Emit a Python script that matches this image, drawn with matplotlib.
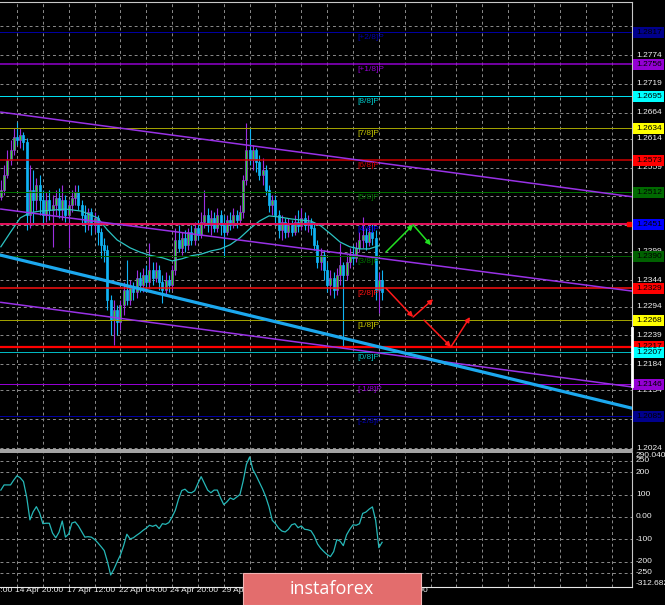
import numpy as np
import matplotlib
matplotlib.use('Agg')
import matplotlib.pyplot as plt
from matplotlib.patches import Rectangle

plt.rcParams['font.family'] = ['Liberation Sans', 'DejaVu Sans']

# GBP/USD H4 candles (bar 5 = 14 Apr 20:00)
opens = [1.2503, 1.2516, 1.2545, 1.2574, 1.2593, 1.2618, 1.2612, 1.2621, 1.2608, 1.2469,
         1.2516, 1.2497, 1.2526, 1.2497, 1.2469, 1.2497, 1.2478, 1.2488, 1.2501, 1.2478,
         1.2497, 1.2469, 1.2488, 1.2501, 1.2513, 1.2488, 1.2469, 1.2455, 1.2474, 1.2450,
         1.2463, 1.2436, 1.2412, 1.2402, 1.2307, 1.2268, 1.2288, 1.2265, 1.2297, 1.2326,
         1.2307, 1.2330, 1.2322, 1.2349, 1.2335, 1.2354, 1.2341, 1.2364, 1.2349, 1.2364,
         1.2341, 1.2326, 1.2345, 1.2335, 1.2364, 1.2421, 1.2406, 1.2425, 1.2412, 1.2436,
         1.2421, 1.2444, 1.2431, 1.2455, 1.2469, 1.2450, 1.2463, 1.2444, 1.2469, 1.2450,
         1.2436, 1.2459, 1.2450, 1.2469, 1.2459, 1.2474, 1.2536, 1.2593, 1.2574, 1.2593,
         1.2570, 1.2545, 1.2555, 1.2516, 1.2488, 1.2497, 1.2469, 1.2440, 1.2455, 1.2436,
         1.2450, 1.2436, 1.2455, 1.2448, 1.2463, 1.2450, 1.2455, 1.2444, 1.2412, 1.2379,
         1.2392, 1.2364, 1.2335, 1.2349, 1.2326, 1.2354, 1.2373, 1.2354, 1.2379, 1.2392,
         1.2387, 1.2406, 1.2421, 1.2431, 1.2417, 1.2436, 1.2425, 1.2326, 1.2345]
highs = [1.2536, 1.2564, 1.2593, 1.2612, 1.2635, 1.2646, 1.2635, 1.2627, 1.2616, 1.2564,
         1.2555, 1.2539, 1.2545, 1.2516, 1.2513, 1.2516, 1.2507, 1.2516, 1.2520, 1.2526,
         1.2507, 1.2497, 1.2516, 1.2526, 1.2526, 1.2497, 1.2488, 1.2482, 1.2482, 1.2474,
         1.2469, 1.2444, 1.2425, 1.2412, 1.2316, 1.2307, 1.2297, 1.2307, 1.2341, 1.2383,
         1.2345, 1.2341, 1.2364, 1.2360, 1.2368, 1.2373, 1.2415, 1.2379, 1.2379, 1.2373,
         1.2354, 1.2360, 1.2354, 1.2373, 1.2444, 1.2450, 1.2436, 1.2440, 1.2444, 1.2450,
         1.2455, 1.2459, 1.2474, 1.2516, 1.2482, 1.2478, 1.2474, 1.2482, 1.2478, 1.2469,
         1.2469, 1.2474, 1.2482, 1.2478, 1.2488, 1.2545, 1.2644, 1.2635, 1.2602, 1.2597,
         1.2583, 1.2578, 1.2564, 1.2526, 1.2507, 1.2507, 1.2478, 1.2469, 1.2463, 1.2463,
         1.2459, 1.2469, 1.2478, 1.2482, 1.2474, 1.2469, 1.2463, 1.2455, 1.2421, 1.2406,
         1.2402, 1.2379, 1.2364, 1.2360, 1.2368, 1.2415, 1.2379, 1.2392, 1.2406, 1.2412,
         1.2417, 1.2436, 1.2465, 1.2444, 1.2450, 1.2452, 1.2440, 1.2360, 1.2364]
lows = [1.2497, 1.2507, 1.2539, 1.2564, 1.2583, 1.2602, 1.2597, 1.2593, 1.2440, 1.2444,
        1.2450, 1.2478, 1.2469, 1.2450, 1.2455, 1.2459, 1.2408, 1.2469, 1.2463, 1.2459,
        1.2455, 1.2406, 1.2474, 1.2488, 1.2478, 1.2450, 1.2436, 1.2440, 1.2431, 1.2436,
        1.2412, 1.2387, 1.2379, 1.2288, 1.2240, 1.2221, 1.2240, 1.2249, 1.2278, 1.2297,
        1.2297, 1.2307, 1.2310, 1.2322, 1.2322, 1.2326, 1.2330, 1.2335, 1.2341, 1.2326,
        1.2301, 1.2316, 1.2322, 1.2326, 1.2354, 1.2398, 1.2392, 1.2398, 1.2402, 1.2412,
        1.2412, 1.2421, 1.2425, 1.2444, 1.2436, 1.2431, 1.2436, 1.2436, 1.2431, 1.2389,
        1.2431, 1.2440, 1.2444, 1.2444, 1.2450, 1.2463, 1.2526, 1.2564, 1.2555, 1.2551,
        1.2536, 1.2526, 1.2507, 1.2474, 1.2469, 1.2450, 1.2425, 1.2421, 1.2425, 1.2427,
        1.2429, 1.2431, 1.2436, 1.2440, 1.2440, 1.2436, 1.2431, 1.2402, 1.2368, 1.2364,
        1.2345, 1.2322, 1.2316, 1.2310, 1.2316, 1.2335, 1.2217, 1.2345, 1.2368, 1.2373,
        1.2379, 1.2398, 1.2406, 1.2402, 1.2410, 1.2412, 1.2307, 1.2282, 1.2307]
closes = [1.2516, 1.2545, 1.2574, 1.2593, 1.2618, 1.2612, 1.2621, 1.2608, 1.2469, 1.2516,
          1.2497, 1.2526, 1.2497, 1.2469, 1.2497, 1.2478, 1.2488, 1.2501, 1.2478, 1.2497,
          1.2469, 1.2488, 1.2501, 1.2513, 1.2488, 1.2469, 1.2455, 1.2474, 1.2450, 1.2463,
          1.2436, 1.2412, 1.2402, 1.2307, 1.2268, 1.2288, 1.2265, 1.2297, 1.2326, 1.2307,
          1.2330, 1.2322, 1.2349, 1.2335, 1.2354, 1.2341, 1.2364, 1.2349, 1.2364, 1.2341,
          1.2326, 1.2345, 1.2335, 1.2364, 1.2421, 1.2406, 1.2425, 1.2412, 1.2436, 1.2421,
          1.2444, 1.2431, 1.2455, 1.2469, 1.2450, 1.2463, 1.2444, 1.2469, 1.2450, 1.2436,
          1.2459, 1.2450, 1.2469, 1.2459, 1.2474, 1.2536, 1.2593, 1.2574, 1.2593, 1.2570,
          1.2545, 1.2555, 1.2516, 1.2488, 1.2497, 1.2469, 1.2440, 1.2455, 1.2436, 1.2450,
          1.2436, 1.2455, 1.2448, 1.2463, 1.2450, 1.2455, 1.2444, 1.2412, 1.2379, 1.2392,
          1.2364, 1.2335, 1.2349, 1.2326, 1.2354, 1.2373, 1.2354, 1.2379, 1.2392, 1.2387,
          1.2406, 1.2421, 1.2431, 1.2417, 1.2436, 1.2425, 1.2326, 1.2345, 1.2322]

# moving average (cyan thin line), sampled every few bars
ma_bars = [0, 3, 6, 9, 12, 16, 20, 25, 30, 33, 36, 40, 43, 46, 50, 53, 56, 59, 62,
           65, 68, 71, 74, 77, 80, 83, 86, 90, 93, 96, 99, 102, 105, 108, 111, 114, 117]
ma_values = [1.2408, 1.2436, 1.2463, 1.2473, 1.2476, 1.2478, 1.2480, 1.2476, 1.2463,
             1.2440, 1.2421, 1.2406, 1.2398, 1.2392, 1.2387, 1.2381, 1.2385, 1.2391,
             1.2394, 1.2400, 1.2404, 1.2412, 1.2425, 1.2442, 1.2457, 1.2467, 1.2465,
             1.2461, 1.2459, 1.2457, 1.2448, 1.2433, 1.2417, 1.2408, 1.2404, 1.2404, 1.2410]

# CCI in the lower window, one value per bar
cci_values = [120, 143, 143, 143, 165, 184, 175, 158, 89, -13,
              23, 46, 18, -30, -28, -28, -72, -93, -68, -18,
              -90, -76, -27, -22, -40, -65, -90, -88, -90, -100,
              -115, -132, -150, -200, -259, -233, -200, -170, -128, -77,
              -98, -93, -82, -72, -60, -50, -37, -42, -36, -52,
              -30, -33, -25, 0, 30, 80, 118, 124, 110, 108,
              117, 150, 180, 150, 120, 108, 120, 120, 85, 55,
              68, 85, 78, 89, 100, 160, 235, 268, 212, 185,
              155, 125, 90, 45, -15, -30, -50, -63, -67, -55,
              -35, -30, -48, -40, -55, -57, -62, -85, -120, -140,
              -155, -168, -177, -155, -101, -108, -128, -80, -55, -35,
              -37, -30, 16, 22, 35, 45, -15, -137, -113]

# Murrey math levels
level_prices = [1.2817, 1.2756, 1.2695, 1.2634, 1.2573, 1.2512, 1.2451,
                1.2390, 1.2329, 1.2268, 1.2207, 1.2146, 1.2085]
level_names = ['[+2/8]P', '[+1/8]P', '[8/8]P', '[7/8]P', '[6/8]P', '[5/8]P', '[4/8]P',
               '[3/8]P', '[2/8]P', '[1/8]P', '[0/8]P', '[-1/8]P', '[-2/8]P']
level_line_colors = ['#0000A0', '#9400D3', '#00E0F0', '#A0A000', '#D00000', '#007000', '#E0105A',
                     '#005C00', '#FF1010', '#A0A000', '#00B8C0', '#9400D3', '#0000A0']
level_tag_colors = ['#00008C', '#9400D3', '#00FFFF', '#FFFF00', '#FF0000', '#006A00', '#0000FF',
                    '#006000', '#FF0000', '#FFFF00', '#00FFFF', '#9400D3', '#00008C']
level_text_colors = ['#0000B0', '#9400D3', '#00C8C8', '#C8C800', '#D00000', '#007000', '#0000FF',
                     '#007000', '#FF1010', '#C8C800', '#00C8C8', '#9400D3', '#0000B0']
level_widths = [1, 1.5, 1, 1, 1.5, 1, 2, 1, 1.5, 1, 1, 1, 1]
support_price = 1.2217

# trend lines (price at bar 0 and bar 196)
line_bars = [0, 196]
channel_upper = [1.2665, 1.2503]
channel_middle = [1.2480, 1.2323]
channel_lower = [1.2302, 1.2140]
trend_line = [1.2392, 1.2099]

# forecast arrows
green_bars = [119.2, 127.6, 133.1]
green_prices = [1.2398, 1.2450, 1.2411]
red1_bars = [119.2, 127.6, 133.8]
red1_prices = [1.2329, 1.2274, 1.2308]
red2_bars = [131.0, 139.3, 145.2]
red2_prices = [1.2268, 1.2217, 1.2274]

# axis texts
grid_prices = [1.2829, 1.2774, 1.2719, 1.2664, 1.2614, 1.2559, 1.2504, 1.2449,
               1.2399, 1.2344, 1.2294, 1.2239, 1.2184, 1.2134, 1.2079, 1.2024]
grid_labels = ['', '1.2774', '1.2719', '1.2664', '1.2614', '1.2559', '1.2504', '1.2449',
               '1.2399', '1.2344', '1.2294', '1.2239', '1.2184', '1.2134', '1.2079', '1.2024']
cci_grid = [250, 200, 100, 0, -100, -200, -250]
cci_labels = ['250', '200', '100', '0.00', '-100', '-200', '-250']
cci_max, cci_min = 290.0403, -312.6823
time_bars = [-11, 5, 21, 37, 53, 69, 85, 101, 117]
time_labels = ['10 Apr 04:00', '14 Apr 20:00', '17 Apr 12:00', '22 Apr 04:00', '24 Apr 20:00',
               '29 Apr 12:00', '4 May 04:00', '6 May 20:00', '11 May 12:00']

# screenshot geometry (pixels)
W, H = 665, 605
PX_BAR = 3.231
X0 = 0.846
RIGHT = 632
MAIN_TOP, MAIN_BOT = 1.5, 450
SUB_TOP, SUB_BOT = 452, 587
main_ylim = (1.20202, 1.28761)

UP_WICK = '#9B2FE0'
UP_BODY = '#2BE02B'
DOWN = '#10B4F5'
GRID = '#8C8C8C'
FRAME = '#C8C8C8'

fig = plt.figure(figsize=(W / 100, H / 100), dpi=100, facecolor='black')
ax = fig.add_axes([0, (H - MAIN_BOT) / H, RIGHT / W, (MAIN_BOT - MAIN_TOP) / H])
ax2 = fig.add_axes([0, (H - SUB_BOT) / H, RIGHT / W, (SUB_BOT - SUB_TOP) / H])

xlim = ((0 - X0) / PX_BAR, (RIGHT - X0) / PX_BAR)
for a in (ax, ax2):
    a.set_facecolor('black')
    a.set_xlim(*xlim)
    a.set_xticks([])
    a.set_yticks([])
    a.spines['left'].set_visible(False)
    a.spines['right'].set_color(FRAME)
    # vertical grid every 8 bars
    for b in np.arange(5, 195, 8):
        a.axvline(b, color=GRID, lw=0.7, ls=(0, (3, 3)), zorder=0)
ax.set_ylim(*main_ylim)
ax2.set_ylim(cci_min, cci_max)
ax.spines['top'].set_color(FRAME)
ax.spines['bottom'].set_color('#A8A8A8')
ax.spines['bottom'].set_linewidth(1.4)
ax2.spines['top'].set_color('#A8A8A8')
ax2.spines['top'].set_linewidth(1.4)
ax2.spines['bottom'].set_color('#E8E8E8')

per_px = (main_ylim[1] - main_ylim[0]) / (MAIN_BOT - MAIN_TOP)
lab_x = 636 / RIGHT
tag_x = 633.5 / RIGHT
tag_w = 30.5 / RIGHT

# horizontal grid and price scale
for p, t in zip(grid_prices, grid_labels):
    ax.axhline(p, color=GRID, lw=0.7, ls=(0, (3, 3)), zorder=0)
    if t:
        ax.text(lab_x, p, t, transform=ax.get_yaxis_transform(), color='#F0F0F0',
                fontsize=6, va='center', ha='left', clip_on=False, zorder=6)

# candles
o = np.array(opens)
c = np.array(closes)
h = np.array(highs)
l = np.array(lows)
bars = np.arange(len(c))
up = c >= o
ax.vlines(bars[up], l[up], h[up], color=UP_WICK, lw=0.8, zorder=2)
ax.vlines(bars[~up], l[~up], h[~up], color=DOWN, lw=0.8, zorder=2)
ax.bar(bars[up], (c - o)[up], bottom=o[up], width=0.62, color=UP_BODY,
       edgecolor=UP_WICK, linewidth=0.5, zorder=2.1)
ax.bar(bars[~up], (o - c)[~up], bottom=c[~up], width=0.62, color=DOWN,
       edgecolor=DOWN, linewidth=0.5, zorder=2.1)

# moving average
ax.plot(ma_bars, ma_values, color='#2CC3C3', lw=0.9, zorder=3)

# levels, their labels and price tags
for p, name, lc, tc, txc, w in zip(level_prices, level_names, level_line_colors,
                                    level_tag_colors, level_text_colors, level_widths):
    ax.axhline(p, color=lc, lw=w * 0.72, zorder=4)
    ax.annotate(name, (110.2, p), xytext=(0, -1.2), textcoords='offset points',
                color=txc, fontsize=6, va='top', ha='left', zorder=6)
ax.axhline(support_price, color='#FF0000', lw=1.6, zorder=4)
ax.plot([194.4], [level_prices[6]], 's', color='#FF0000', ms=3.5, zorder=5, clip_on=False)

tag_prices = [support_price] + level_prices
tag_colors = ['#FF0000'] + level_tag_colors
for p, fc in zip(tag_prices, tag_colors):
    ax.add_patch(Rectangle((tag_x, p - 5.5 * per_px), tag_w, 11 * per_px,
                           transform=ax.get_yaxis_transform(), facecolor=fc,
                           edgecolor='none', clip_on=False, zorder=7))
    ax.text(lab_x, p, '%.4f' % p, transform=ax.get_yaxis_transform(), color='black',
            fontsize=6, va='center', ha='left', clip_on=False, zorder=8)

# channel and trend lines
for prices in (channel_upper, channel_middle, channel_lower):
    ax.plot(line_bars, prices, color='#9932E6', lw=1.1, zorder=4)
ax.plot(line_bars, trend_line, color='#1CA8EE', lw=2.3, zorder=4)

# forecast arrows
for bx, py, col in ((green_bars, green_prices, '#22E022'),
                    (red1_bars, red1_prices, '#FF1A1A'),
                    (red2_bars, red2_prices, '#FF1A1A')):
    for i in range(len(bx) - 1):
        ax.annotate('', xy=(bx[i + 1], py[i + 1]), xytext=(bx[i], py[i]),
                    arrowprops=dict(arrowstyle='-|>', color=col, lw=1.1,
                                    mutation_scale=7, shrinkA=0, shrinkB=0), zorder=5)

# white marker on the right border
ax.plot([1, 1], [(MAIN_BOT - 328) / (MAIN_BOT - MAIN_TOP), (MAIN_BOT - 386) / (MAIN_BOT - MAIN_TOP)],
        transform=ax.transAxes, color='white', lw=2, clip_on=False, zorder=9)

# lower window: CCI
for v in cci_grid:
    ax2.axhline(v, color=GRID, lw=0.7, ls=(0, (3, 3)), zorder=0)
ax2.plot(np.arange(len(cci_values)), cci_values, color='#26B8B8', lw=0.9, zorder=3)
for v, t in zip(cci_grid, cci_labels):
    ax2.text(lab_x, v, t, transform=ax2.get_yaxis_transform(), color='#F0F0F0',
             fontsize=6, va='center', ha='left', clip_on=False)
ax2.text(lab_x, cci_max, '%.4f' % cci_max, transform=ax2.get_yaxis_transform(),
         color='#F0F0F0', fontsize=6, va='top', ha='left', clip_on=False)
ax2.text(lab_x, cci_min, '%.4f' % cci_min, transform=ax2.get_yaxis_transform(),
         color='#F0F0F0', fontsize=6, va='bottom', ha='left', clip_on=False)

# time scale
for b, t in zip(time_bars, time_labels):
    ax2.text(b - 0.5, -(591 - SUB_BOT) / (SUB_BOT - SUB_TOP), t,
             transform=ax2.get_xaxis_transform(), color='#F0F0F0', fontsize=6,
             va='center', ha='left', clip_on=False)

# instaforex badge
fig.patches.append(Rectangle((243 / W, 0), 178 / W, 32 / H, transform=fig.transFigure,
                             facecolor='#E36D6D', edgecolor='#F2B3B3', lw=0.8, zorder=10))
fig.text(332 / W, 16 / H, 'instaforex', color='white', fontsize=13, family='Open Sans',
         ha='center', va='center', zorder=11)

fig.savefig('out.png', dpi=100, facecolor='black')
